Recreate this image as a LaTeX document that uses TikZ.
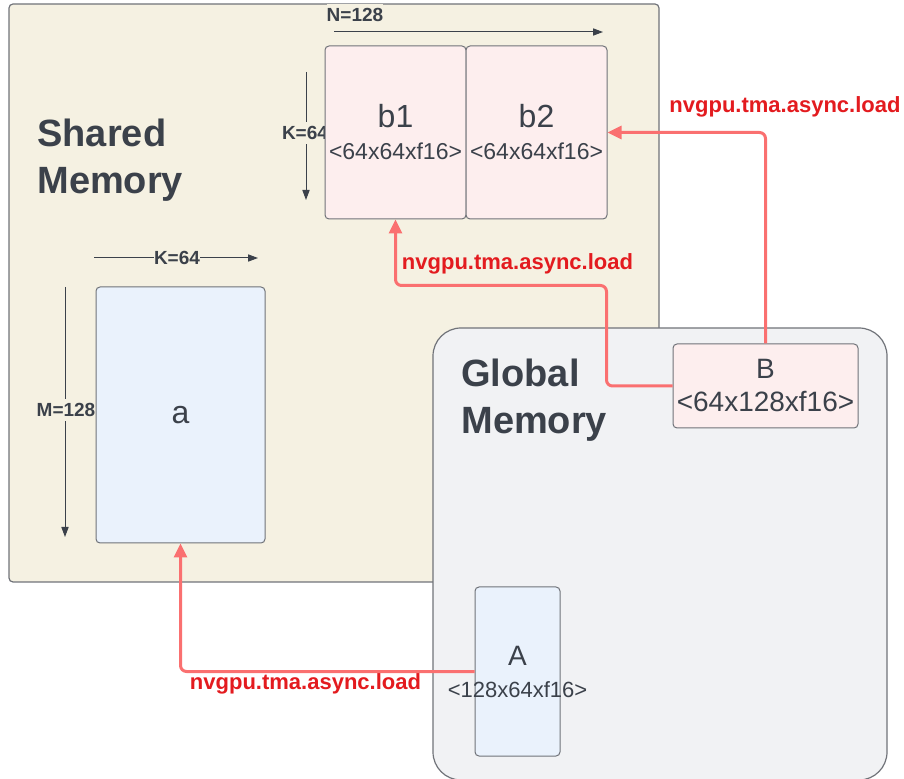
\documentclass[tikz,border=0pt]{standalone}
\usepackage{fontspec}
\setmainfont{Liberation Sans}
\usetikzlibrary{positioning,calc,arrows.meta}

\definecolor{ink}{HTML}{3B414A}
\definecolor{sharedbg}{HTML}{F5F1E2}
\definecolor{globalbg}{HTML}{F1F2F4}
\definecolor{tilepink}{HTML}{FDEEEE}
\definecolor{tileblue}{HTML}{EAF2FC}
\definecolor{tmaline}{HTML}{FA7070}
\definecolor{tmatext}{HTML}{E31B1F}
\definecolor{edge}{HTML}{707379}

\begin{document}
\begin{tikzpicture}[x=0.5pt, y=-0.5pt]
	\tikzstyle{every node}=[align=center, inner sep=0pt, text=ink]
	\tikzstyle{mem}=[draw=edge, line width=0.6pt]
	\tikzstyle{tile}=[draw=edge, line width=0.5pt, rounded corners=2pt]
	\tikzstyle{dim}=[ink, line width=0.5pt, -{Triangle[length=5pt, width=3.6pt]}]
	\tikzstyle{dimlabel}=[font=\fontsize{9.5}{11}\selectfont\bfseries, fill=sharedbg, inner ysep=2pt]
	\tikzstyle{tma}=[tmaline, line width=1.5pt, rounded corners=3pt, -{Triangle[length=7pt, width=6.5pt]}]
	\tikzstyle{tmalabel}=[font=\fontsize{11}{13}\selectfont\bfseries, text=tmatext]
	\tikzstyle{title}=[font=\fontsize{19}{23.5}\selectfont\bfseries, align=left, anchor=west]

	\useasboundingbox (0,0) rectangle (904,779);
	\clip (0,0) rectangle (904,779);

	% shared memory
	\node[mem, fill=sharedbg, rounded corners=2pt, minimum width=325pt, minimum height=289pt] (smem) at (334,293) {};
	\node[title] (smem-title) at (37,160) {Shared\\Memory};

	\coordinate (n-from) at (334,32);
	\coordinate (n-to)   at (603,32);
	\draw[dim] (n-from) -- (n-to);
	\node[dimlabel] (n-label) at (355,15) {N=128};

	\coordinate (kb-from) at (306,72);
	\coordinate (kb-to)   at (306,200);
	\draw[dim] (kb-from) -- (kb-to);
	\node[dimlabel] (kb-label) at (305,133) {K=64};

	\coordinate (ka-from) at (94,258);
	\coordinate (ka-to)   at (258,258);
	\draw[dim] (ka-from) -- (ka-to);
	\node[dimlabel] (ka-label) at (177,258) {K=64};

	\coordinate (m-from) at (65,287);
	\coordinate (m-to)   at (65,537);
	\draw[dim] (m-from) -- (m-to);
	\node[dimlabel] (m-label) at (66,410) {M=128};

	\node[tile, fill=tilepink, minimum width=70.5pt, minimum height=86.5pt, font=\fontsize{11.5}{16}\selectfont] (b1) at (395.5,132.5) {{\fontsize{16}{16}\selectfont b1}\\<64x64xf16>};
	\node[tile, fill=tilepink, minimum width=70.5pt, minimum height=86.5pt, font=\fontsize{11.5}{16}\selectfont] (b2) at (536.5,132.5) {{\fontsize{16}{16}\selectfont b2}\\<64x64xf16>};
	\node[tile, fill=tileblue, minimum width=84.5pt, minimum height=128pt, font=\fontsize{16}{18}\selectfont] (a) at (180.5,415) {a};

	% global memory
	\node[mem, fill=globalbg, rounded corners=14pt, minimum width=227pt, minimum height=226pt] (gmem) at (660,554) {};
	\node[title] (gmem-title) at (461,400) {Global\\Memory};

	\node[tile, fill=tilepink, minimum width=92.5pt, minimum height=42pt, font=\fontsize{14}{16.5}\selectfont] (B) at (765.5,386) {B\\<64x128xf16>};
	\node[tile, fill=tileblue, minimum width=42.5pt, minimum height=84.5pt] (A) at (517.5,671.5) {};
	\node[font=\fontsize{11}{16}\selectfont] (A-text) at (A) {{\fontsize{14}{16}\selectfont A}\\<128x64xf16>};

	% tma loads
	\draw[tma] (A.west) -| (a.south);
	\draw[tma] (B.west) -- ++(-66,0) |- ($(b1.south)+(0,66)$) -- (b1.south);
	\draw[tma] (B.north) |- (b2.east);

	\node[tmalabel] (load-a)  at (305.5,684) {nvgpu.tma.async.load};
	\node[tmalabel] (load-b1) at (517.5,263.5) {nvgpu.tma.async.load};
	\node[tmalabel] (load-b2) at (785,107) {nvgpu.tma.async.load};
\end{tikzpicture}
\end{document}
